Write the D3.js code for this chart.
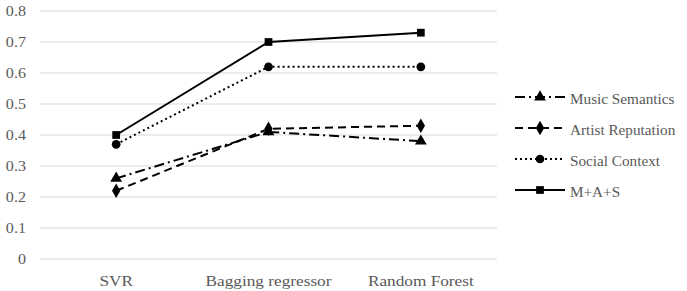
<!DOCTYPE html>
<html>
<head>
<meta charset="utf-8">
<script src="https://cdn.jsdelivr.net/npm/d3@7"></script>
<style>
  body { margin: 0; background: #fff; }
  text { font-family: "Liberation Serif", "Times New Roman", serif; }
</style>
</head>
<body>
<div id="container"></div>
<script>
const width = 687, height = 291;

// data
const categories = ["SVR", "Bagging regressor", "Random Forest"];
const musicSemantics = [0.26, 0.41, 0.38];
const artistReputation = [0.22, 0.42, 0.43];
const socialContext = [0.37, 0.62, 0.62];
const mas = [0.40, 0.70, 0.73];
const yTicks = [0, 0.1, 0.2, 0.3, 0.4, 0.5, 0.6, 0.7, 0.8];

const series = [
  { name: "Music Semantics", values: musicSemantics, dash: "10,4,2,4", symbol: d3.symbolTriangle },
  { name: "Artist Reputation", values: artistReputation, dash: "8,5", symbol: d3.symbolDiamond },
  { name: "Social Context", values: socialContext, dash: "2,3", symbol: d3.symbolCircle },
  { name: "M+A+S", values: mas, dash: null, symbol: d3.symbolSquare }
];

const plot = { left: 40, right: 497, top: 11, bottom: 259 };
const stretch = 1.15; // source text looks a bit wide

const svg = d3.select("#container").append("svg")
  .attr("width", width)
  .attr("height", height);

const x = d3.scaleBand()
  .domain(categories)
  .range([plot.left, plot.right]);

const y = d3.scaleLinear()
  .domain([0, 0.8])
  .range([plot.bottom, plot.top]);

// gridlines
svg.append("g")
  .selectAll("line")
  .data(yTicks)
  .join("line")
  .attr("x1", plot.left)
  .attr("x2", plot.right)
  .attr("y1", d => y(d))
  .attr("y2", d => y(d))
  .attr("stroke", "#d9d9d9")
  .attr("stroke-width", 1);

// y tick labels
svg.append("g")
  .selectAll("text")
  .data(yTicks)
  .join("text")
  .attr("transform", d => `translate(26,${y(d)}) scale(${stretch},1)`)
  .attr("dy", "0.35em")
  .attr("text-anchor", "end")
  .attr("font-size", 14)
  .attr("fill", "#595959")
  .text(d => d === 0 ? "0" : d3.format(".1f")(d));

const cx = d => x(d) + x.bandwidth() / 2;

// x labels
svg.append("g")
  .selectAll("text")
  .data(categories)
  .join("text")
  .attr("transform", d => `translate(${cx(d)},286) scale(${stretch},1)`)
  .attr("text-anchor", "middle")
  .attr("font-size", 15)
  .attr("fill", "#595959")
  .text(d => d);

const line = d3.line()
  .x((d, i) => cx(categories[i]))
  .y(d => y(d));

series.forEach(s => {
  svg.append("path")
    .datum(s.values)
    .attr("d", line)
    .attr("fill", "none")
    .attr("stroke", "#000")
    .attr("stroke-width", 2)
    .attr("stroke-dasharray", s.dash);

  svg.append("g")
    .selectAll("path")
    .data(s.values)
    .join("path")
    .attr("transform", (d, i) => `translate(${cx(categories[i])},${y(d)})`)
    .attr("d", d3.symbol().type(s.symbol).size(60))
    .attr("fill", "#000");
});

// legend
const legend = svg.append("g")
  .attr("transform", "translate(515, 97)");

series.forEach((s, i) => {
  const g = legend.append("g").attr("transform", `translate(0, ${i * 31})`);
  g.append("line")
    .attr("x1", 0)
    .attr("x2", 50)
    .attr("y1", 0)
    .attr("y2", 0)
    .attr("stroke", "#000")
    .attr("stroke-width", 2)
    .attr("stroke-dasharray", s.dash);
  g.append("path")
    .attr("transform", "translate(25, 0)")
    .attr("d", d3.symbol().type(s.symbol).size(60))
    .attr("fill", "#000");
  g.append("text")
    .attr("transform", `translate(55,2) scale(1.05,1)`)
    .attr("dy", "0.35em")
    .attr("font-size", 14.5)
    .attr("fill", "#595959")
    .text(s.name);
});
</script>
</body>
</html>
